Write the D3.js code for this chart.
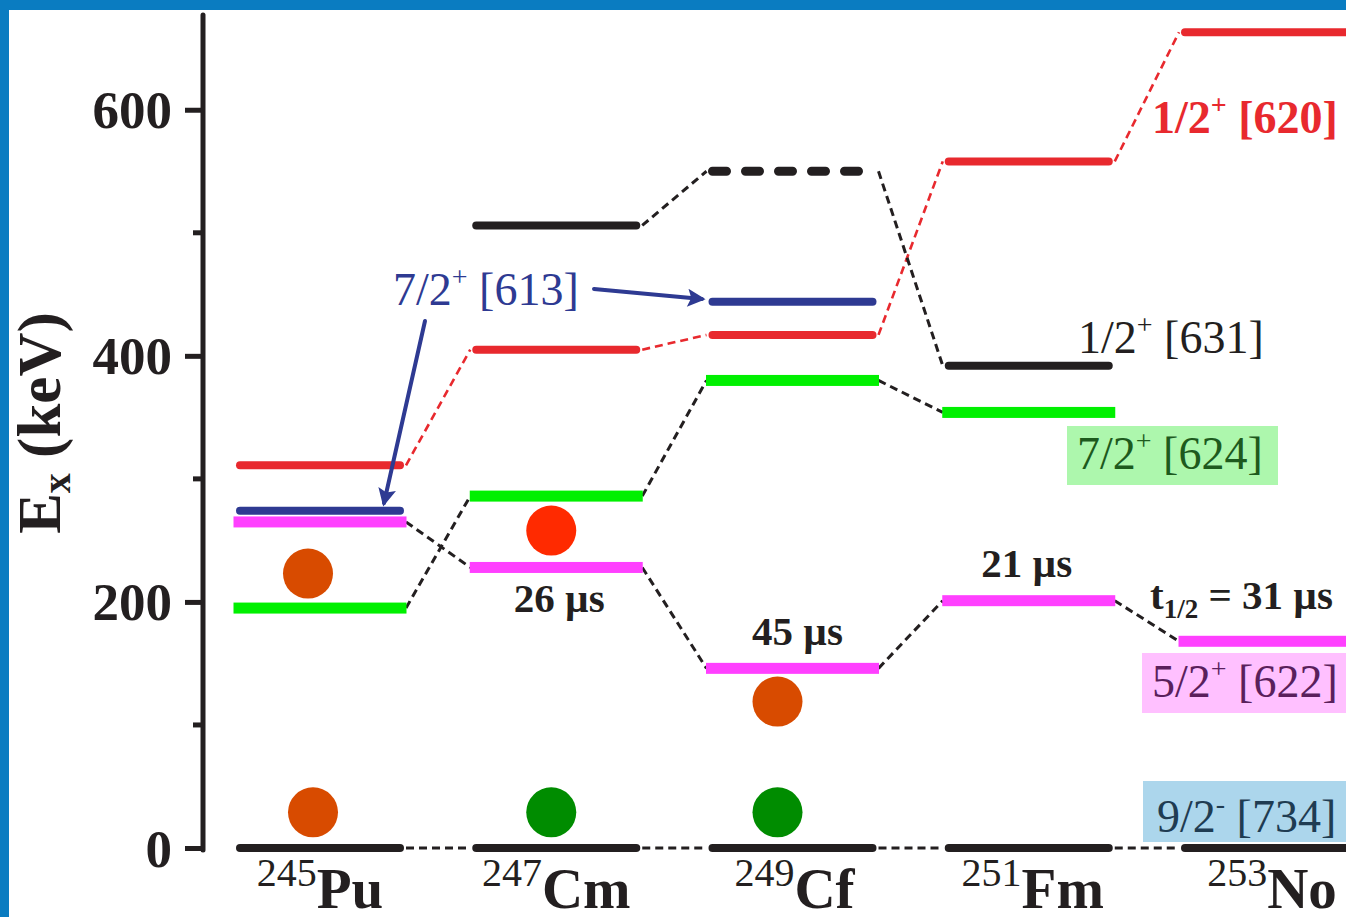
<!DOCTYPE html>
<html><head><meta charset="utf-8">
<script src="https://cdn.jsdelivr.net/npm/d3@7"></script>
</head><body style="margin:0"><svg id="c" width="1346" height="917" style="display:block"></svg>
<script>
// ---------- data ----------
const nuclei = ["245Pu","247Cm","249Cf","251Fm","253No"];
const massNumbers = ["245","247","249","251","253"];
const elements = ["Pu","Cm","Cf","Fm","No"];
// level energies (keV) per Nilsson orbital; null = level not shown
const ground734 = [0,0,0,0,0];
const green624 = [195,286,380,354,null];
const magenta622 = [265,228,146,201,168];
const red620 = [311,405,417,558,663];
const black631 = [null,506,550,392,null];
const blue613 = [274,null,444,null,null];
const yTicks = [0,200,400,600];
const yMinorTicks = [100,300,500];
// filled circles
const circleNuclei = ["245Pu","245Pu","247Cm","247Cm","249Cf","249Cf"];
const circleEnergies = [223,29,258,29,119,29];
const circleKinds = ["orange","orange","red","green","orange","green"];
// half-life labels
const halfLifeNuclei = ["247Cm","249Cf","251Fm"];
const halfLifeTexts = ["26 µs","45 µs","21 µs"];

// ---------- layout ----------
const FONT = "Liberation Serif";
const svg = d3.select("#c");
const W = 1346, H = 917;
svg.append("rect").attr("width",W).attr("height",H).attr("fill","#0a7cc1");
svg.append("rect").attr("x",9).attr("y",10).attr("width",W-9).attr("height",H-10).attr("fill","#fff");

const y = d3.scaleLinear().domain([0,677]).range([848,15]);
const x = d3.scalePoint().domain(nuclei).range([320,1265]);
const axisX = 203;

const col = {black:"#231f20", red:"#e8292e", green:"#00f000", magenta:"#ff40ff", blue:"#2e3a92"};
const circleColor = {orange:"#d84b00", red:"#ff2a00", green:"#008c00"};

function T(sel){ return sel.style("font-family", FONT); }

// axis
const axisG = svg.append("g").attr("transform",`translate(${axisX},0)`);
axisG.call(d3.axisLeft(y).tickValues(yTicks).tickSize(18).tickPadding(13).tickFormat(d3.format("d")));
axisG.attr("font-family",null).attr("font-size",null);
axisG.select(".domain").remove();
axisG.selectAll(".tick line").attr("stroke",col.black).attr("stroke-width",5);
axisG.selectAll(".tick text").style("font-family",FONT).style("font-weight","bold")
  .style("font-size","53px").attr("fill",col.black).attr("dy","0.34em");
axisG.append("line").attr("x1",0).attr("x2",0).attr("y1",y(0)+2).attr("y2",y(677))
  .attr("stroke",col.black).attr("stroke-width",5).attr("stroke-linecap","round");
axisG.selectAll(".minor").data(yMinorTicks).join("line").attr("class","minor")
  .attr("x1",-10).attr("x2",0).attr("y1",d=>y(d)).attr("y2",d=>y(d))
  .attr("stroke",col.black).attr("stroke-width",5);

// y label
const yl = T(svg.append("text")).attr("transform",`translate(60,423) rotate(-90)`)
  .attr("text-anchor","middle").style("font-weight","bold").style("font-size","61px").attr("fill",col.black);
yl.append("tspan").text("E");
yl.append("tspan").text("x").style("font-size","40px").attr("dy",10);
yl.append("tspan").text(" (keV)").attr("dy",-10);

// series definition
const series = [
  {vals:ground734, color:col.black, kind:"line", conn:col.black, connW:3},
  {vals:green624, color:col.green, kind:"rect", conn:col.black, connW:3},
  {vals:magenta622, color:col.magenta, kind:"rect", conn:col.black, connW:3},
  {vals:red620, color:col.red, kind:"line", conn:col.red, connW:2.6},
  {vals:black631, color:col.black, kind:"line", conn:col.black, connW:3},
  {vals:blue613, color:col.blue, kind:"line", conn:null}
];
const HW = 86;
const connG = svg.append("g"), levG = svg.append("g");
series.forEach(s=>{
  if(s.conn){
    for(let i=0;i<nuclei.length-1;i++){
      const a=s.vals[i], b=s.vals[i+1];
      if(a==null||b==null) continue;
      connG.append("line")
        .attr("x1",x(nuclei[i])+HW).attr("y1",y(a))
        .attr("x2",x(nuclei[i+1])-HW).attr("y2",y(b))
        .attr("stroke",s.conn).attr("stroke-width",s.connW).attr("stroke-dasharray","8,5");
    }
  }
  s.vals.forEach((v,i)=>{
    if(v==null) return;
    const cx = x(nuclei[i]);
    if(s.kind==="rect"){
      levG.append("rect").attr("x",cx-86.5).attr("width",173).attr("y",y(v)-5.5).attr("height",11).attr("fill",s.color);
    } else {
      const ln = levG.append("line").attr("x1",cx-80).attr("x2",cx+80).attr("y1",y(v)).attr("y2",y(v))
        .attr("stroke",s.color).attr("stroke-width",8).attr("stroke-linecap","round");
      if(s.vals===black631 && nuclei[i]==="249Cf"){
        ln.attr("stroke-width",9).attr("stroke-dasharray","14,19");
      }
    }
  });
});

// circles
const circleDx = [-12,-7,-5,-5,-15,-15];
svg.append("g").selectAll("circle").data(circleEnergies).join("circle")
  .attr("cx",(d,i)=>x(circleNuclei[i])+circleDx[i]).attr("cy",d=>y(d)).attr("r",25)
  .attr("fill",(d,i)=>circleColor[circleKinds[i]]);

// nucleus labels
const nucDx = [0,0,2,4,7];
nuclei.forEach((n,i)=>{
  const t = T(svg.append("text")).attr("x",x(n)+nucDx[i]).attr("y",908).attr("text-anchor","middle").attr("fill",col.black);
  t.append("tspan").text(massNumbers[i]).style("font-family",FONT).style("font-size","40px").attr("dy",-22);
  t.append("tspan").text(elements[i]).style("font-family",FONT).style("font-size","57px").style("font-weight","bold").attr("dy",22);
});

// half-life labels
const hlPos = [[3,612],[5,645],[-2,577]];
halfLifeTexts.forEach((s,i)=>{
  T(svg.append("text")).attr("x",x(halfLifeNuclei[i])+hlPos[i][0]).attr("y",hlPos[i][1])
    .attr("text-anchor","middle").style("font-size","41px").style("font-weight","bold").attr("fill",col.black).text(s);
});
const tl = T(svg.append("text")).attr("x",1150).attr("y",609).style("font-size","41px").style("font-weight","bold").attr("fill",col.black);
tl.append("tspan").text("t");
tl.append("tspan").text("1/2").style("font-size","27px").attr("dy",9);
tl.append("tspan").text(" = 31 µs").attr("dy",-9);

// orbital labels
function orbital(xp, yp, main, sup, rest, color, bold){
  const t = T(svg.append("text")).attr("x",xp).attr("y",yp).style("font-size","46px").attr("fill",color)
    .style("font-weight",bold?"bold":"normal");
  t.append("tspan").text(main);
  t.append("tspan").text(sup).style("font-size","28px").attr("dy",-19);
  t.append("tspan").text(" "+rest).attr("dy",19);
  return t;
}
svg.append("rect").attr("x",1067).attr("y",426).attr("width",211).attr("height",59).attr("fill","#adf7ad");
svg.append("rect").attr("x",1142).attr("y",653).attr("width",204).attr("height",60).attr("fill","#ffc0ff");
svg.append("rect").attr("x",1143).attr("y",781).attr("width",203).attr("height",61).attr("fill","#acd6ec");
orbital(1152,133,"1/2","+","[620]",col.red,true);
orbital(1078,353,"1/2","+","[631]",col.black);
orbital(1077,469,"7/2","+","[624]","#1d5a1d");
orbital(1152,697,"5/2","+","[622]","#5a1f5c");
orbital(1157,832,"9/2","-","[734]","#1f3c52");
orbital(393,305,"7/2","+","[613]",col.blue);

// arrows
const defs = svg.append("defs");
defs.append("marker").attr("id","ah").attr("viewBox","0 0 10 10").attr("refX",8).attr("refY",5)
  .attr("markerWidth",6).attr("markerHeight",4.5).attr("orient","auto").attr("markerUnits","strokeWidth")
  .append("path").attr("d","M0,0 L10,5 L0,10 L2,5 Z").attr("fill",col.blue);
svg.append("line").attr("x1",594).attr("y1",289).attr("x2",702).attr("y2",299)
  .attr("stroke",col.blue).attr("stroke-width",4).attr("stroke-linecap","round").attr("marker-end","url(#ah)");
svg.append("line").attr("x1",425).attr("y1",321).attr("x2",384).attr("y2",503)
  .attr("stroke",col.blue).attr("stroke-width",4).attr("stroke-linecap","round").attr("marker-end","url(#ah)");
</script></body></html>
